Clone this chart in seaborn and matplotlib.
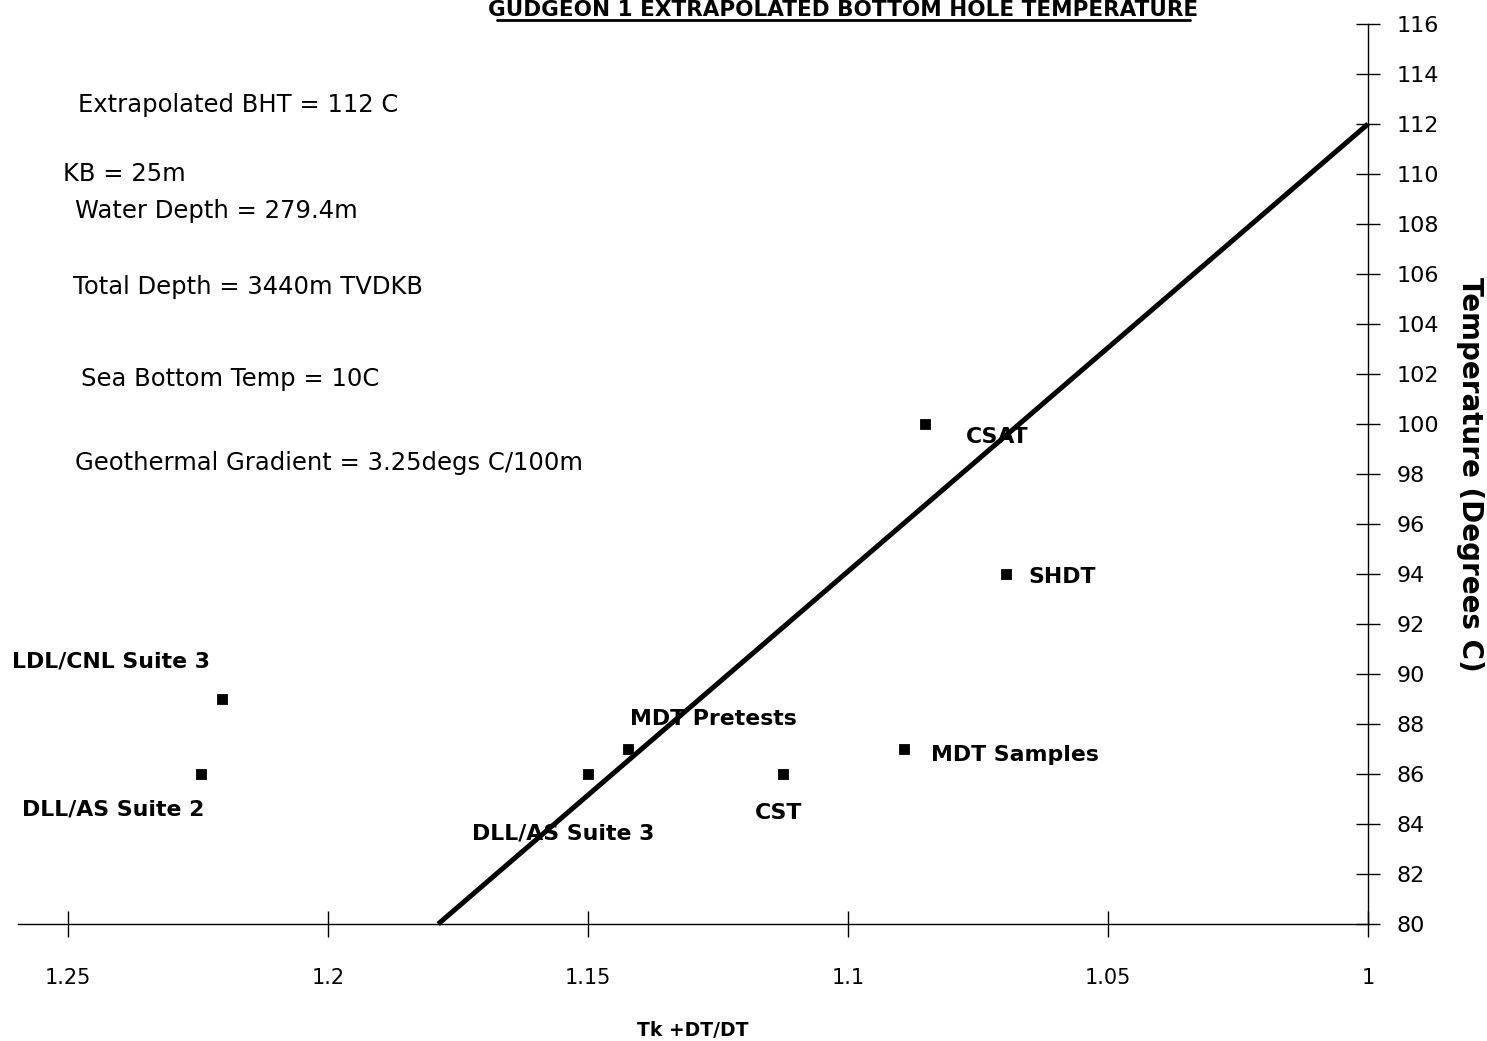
import matplotlib
matplotlib.use('Agg')
import matplotlib.pyplot as plt
import seaborn as sns
import pandas as pd
from matplotlib.lines import Line2D

sns.set_style('white')
plt.rcParams['font.family'] = ['DejaVu Sans']
plt.rcParams['text.color'] = 'black'
plt.rcParams['axes.labelcolor'] = 'black'

# data
tools = ['LDL/CNL Suite 3', 'DLL/AS Suite 2', 'DLL/AS Suite 3', 'MDT Pretests',
         'CST', 'MDT Samples', 'CSAT', 'SHDT']
horner = [1.2204, 1.2244, 1.150, 1.1423, 1.1125, 1.0892, 1.0852, 1.0696]
temps = [89, 86, 86, 87, 86, 87, 100, 94]

fit_x = [1.1788, 1.0]
fit_y = [80, 112]

xticks = [1.25, 1.2, 1.15, 1.1, 1.05, 1.0]
xticklabels = ['1.25', '1.2', '1.15', '1.1', '1.05', '1']
yticks = list(range(80, 117, 2))

notes = ['Extrapolated BHT = 112 C', 'KB = 25m', 'Water Depth = 279.4m',
         'Total Depth = 3440m TVDKB', 'Sea Bottom Temp = 10C',
         'Geothermal Gradient = 3.25degs C/100m']

# label offsets in pixels (left edge of text, vertical centre)
label_off = {'LDL/CNL Suite 3': (-210, 38), 'DLL/AS Suite 2': (-179, -35),
             'DLL/AS Suite 3': (-116, -59), 'MDT Pretests': (2, 30),
             'CST': (-28, -39), 'MDT Samples': (27, -6),
             'CSAT': (41, -13), 'SHDT': (22, -3)}
note_pos = [(78, 105), (63, 174), (75, 211), (73, 287), (81, 379), (75, 463)]

df = pd.DataFrame({'tool': tools, 'horner': horner, 'temp': temps})
fit = pd.DataFrame({'horner': fit_x, 'temp': fit_y})

W, H = 1487, 1041
fig = plt.figure(figsize=(W / 100, H / 100), dpi=100)
ax = fig.add_axes([18 / W, 1 - 924 / H, 1350 / W, 900 / H])

sns.lineplot(data=fit, x='horner', y='temp', ax=ax, color='black', lw=3.6,
             clip_on=False, solid_capstyle='butt')
sns.scatterplot(data=df, x='horner', y='temp', ax=ax, marker='s', s=55,
                color='black', edgecolor='black', zorder=5)

for t, x, y in zip(tools, horner, temps):
    dx, dy = label_off[t]
    ax.annotate(t, (x, y), xytext=(dx, dy), textcoords='offset pixels',
                ha='left', va='center', fontsize=15.8, fontweight='bold',
                color='black')

ax.set_xlim(1.2596, 1.0)
ax.set_ylim(80, 116)
ax.set_xticks(xticks)
ax.set_xticklabels(xticklabels)
ax.set_yticks(yticks)
ax.yaxis.tick_right()
ax.yaxis.set_label_position('right')
for s in ['left', 'top']:
    ax.spines[s].set_visible(False)
for s in ['right', 'bottom']:
    ax.spines[s].set_color('black')
    ax.spines[s].set_linewidth(1.0)
ax.tick_params(axis='x', direction='inout', length=19, width=1, pad=22,
               labelsize=15, bottom=True, colors='black')
ax.tick_params(axis='y', direction='inout', length=17, width=1, pad=12,
               labelsize=16, right=True, left=False, colors='black')
ax.set_xlabel('Tk +DT/DT', fontsize=13.5, fontweight='bold', labelpad=24)
ax.set_ylabel('Temperature (Degrees C)', fontsize=20, fontweight='bold',
              rotation=-90, labelpad=32)
ax.grid(False)

for txt, (px, py) in zip(notes, note_pos):
    fig.text(px / W, 1 - py / H, txt, ha='left', va='center', fontsize=17.5)

fig.text(843 / W, 1 - 16 / H, 'GUDGEON 1 EXTRAPOLATED BOTTOM HOLE TEMPERATURE',
         ha='center', va='baseline', fontsize=15.5, fontweight='bold')
fig.add_artist(Line2D([497 / W, 1190 / W], [1 - 20 / H, 1 - 20 / H],
                      transform=fig.transFigure, color='black', lw=2))

fig.savefig('out.png', dpi=100)
